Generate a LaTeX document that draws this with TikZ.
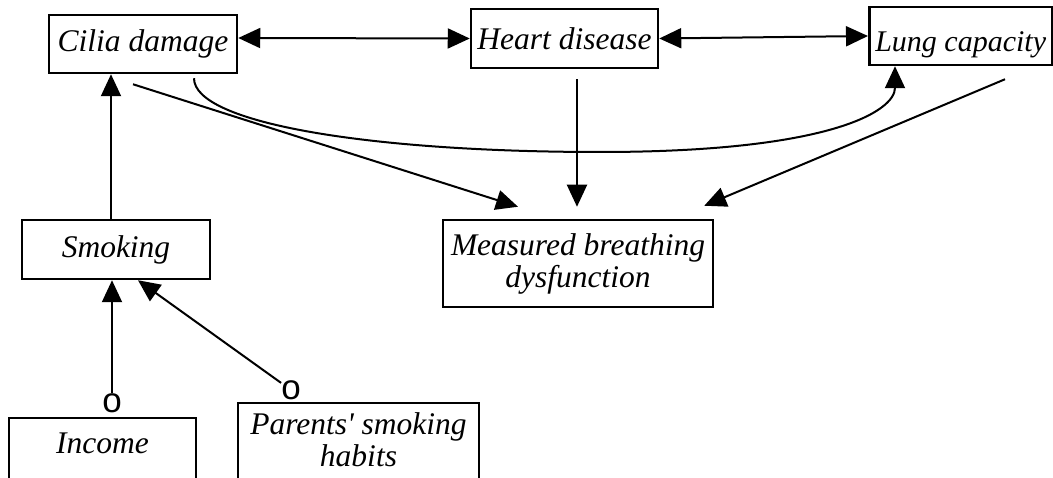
\documentclass[tikz,border=0pt]{standalone}
\usepackage{fontspec}
\setmainfont{Liberation Serif}
\setsansfont{Liberation Sans}
\usepackage{tikz}
\usetikzlibrary{arrows.meta}
\tikzset {
  x=1pt, y=-1pt,
  % boxed variable
  var/.style = {draw, rectangle, line width=2.5pt, inner sep=0pt, align=center,
    font=\itshape\fontsize{31.5}{32}\selectfont},
  % open tail mark
  tail/.style = {inner sep=0pt, font=\sffamily\fontsize{35}{35}\selectfont},
  % causal links
  link/.style = {line width=2pt},
  >={Triangle[length=22pt, width=20pt]},
}

\begin{document}
\begin{tikzpicture}
      \useasboundingbox (0,0) rectangle (1053,478);

      \node[var, minimum width=188pt, minimum height=58pt] (cilia) at (143,44) {Cilia damage};
      \node[var, minimum width=187pt, minimum height=59pt, text height=23pt, text depth=0pt] (heart) at (564.5,38.5) {Heart disease};
      \node[var, anchor=west, minimum height=58pt, inner xsep=6pt, text height=32pt, text depth=0pt,
            font=\itshape\fontsize{30}{32}\selectfont] (lung) at (868,36) {Lung capacity};

      \node[var, minimum width=188pt, minimum height=59pt] (smoking) at (116,249.5) {Smoking};
      \node[var, minimum width=270pt, minimum height=87pt] (measured) at (578,263.5) {Measured breathing\\dysfunction};

      \node[var, anchor=north, minimum width=187pt, text height=29pt, text depth=40pt, inner ysep=6pt] (income) at (102.5,417) {Income};
      \node[var, anchor=north, minimum width=241pt, text height=57pt, text depth=30pt, inner ysep=6pt] (parents) at (358.5,402) {Parents\textquotesingle{} smoking\\habits};

      \node[tail] (oinc) at (112,403) {o};
      \node[tail] (opar) at (291,390) {o};
      \coordinate (dip) at (600,152);

      \draw [<->, link] ([yshift=6pt]cilia.east) -- (heart.west);
      \draw [<->, link] (heart.east) -- (lung.west);

      \draw [->, link] ([xshift=-10pt, yshift=-10pt]cilia.south) -- ([xshift=-60pt, yshift=12pt]measured.north);
      \draw [->, link] ([xshift=12.5pt, yshift=-10pt]heart.south) -- ([xshift=-1pt, yshift=12pt]measured.north);
      \draw [->, link] ([xshift=137pt, yshift=-13pt]lung.south west) -- ([xshift=-10pt, yshift=13pt]measured.north east);

      \draw [->, link] ([xshift=51pt, yshift=-4pt]cilia.south) .. controls +(0,45) and +(-230,0) .. (dip)
            .. controls +(230,0) and +(0,45) .. ([xshift=27pt]lung.south west);

      \draw [->, link] ([xshift=-5pt]smoking.north) -- ([xshift=-32pt]cilia.south);
      \draw [->, link] (oinc) -- (oinc |- smoking.south);
      \draw [->, link] (opar) -- ([xshift=22pt]smoking.south);
    \end{tikzpicture}
\end{document}
